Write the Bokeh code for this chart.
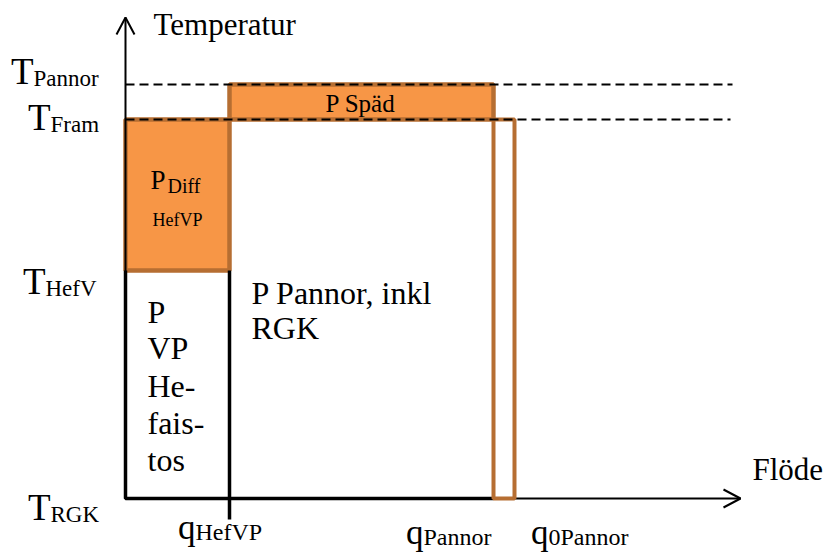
from bokeh.plotting import figure
from bokeh.models import Range1d
from bokeh.core.properties import value
from bokeh.embed import file_html
from bokeh.resources import INLINE

# ---- schematic data (diagram units = page pixels) ----
temp_names = ["Pannor", "Fram", "HefV", "RGK"]
temp_levels = [84, 119, 270, 498]          # T_Pannor, T_Fram, T_HefV, T_RGK
flow_names = ["HefVP", "Pannor", "0Pannor"]
flow_levels = [229, 493, 514]              # q_HefVP, q_Pannor, q_0Pannor
origin_x = 125
axis_x_end = 740
axis_y_end = 17
dash_end = [732, 730]

T_PAN, T_FRAM, T_HEF, T_RGK = temp_levels
Q_HEF, Q_PAN, Q_0PAN = flow_levels

ORANGE = "#F79646"
BORDER = "#B66E32"
SERIF = value("Liberation Serif")

p = figure(width=825, height=553, x_range=Range1d(0, 825), y_range=Range1d(553, 0),
           x_axis_type=None, y_axis_type=None, output_backend="svg",
           toolbar_location=None, min_border=0)
p.grid.visible = False
p.outline_line_color = None
p.background_fill_color = "white"

# orange areas
p.quad(left=[origin_x], right=[Q_HEF], top=[T_FRAM], bottom=[T_HEF],
       fill_color=ORANGE, line_color=BORDER, line_width=4.5)
p.quad(left=[Q_HEF], right=[Q_PAN], top=[T_PAN], bottom=[T_FRAM],
       fill_color=ORANGE, line_color=BORDER, line_width=4.5)

# thin axes
p.line(x=[origin_x, origin_x], y=[T_RGK, axis_y_end], line_color="black", line_width=2)
p.line(x=[origin_x, axis_x_end], y=[T_RGK, T_RGK], line_color="black", line_width=1.8)
# arrowheads
p.line(x=[origin_x - 9, origin_x, origin_x + 9], y=[axis_y_end + 17, axis_y_end, axis_y_end + 17],
       line_color="black", line_width=2)
p.line(x=[axis_x_end - 17, axis_x_end, axis_x_end - 17], y=[T_RGK - 9, T_RGK, T_RGK + 9],
       line_color="black", line_width=2)

# thick black region borders
p.line(x=[origin_x, origin_x, Q_PAN], y=[T_HEF, T_RGK, T_RGK], line_color="black", line_width=3.5)
p.line(x=[Q_HEF, Q_HEF], y=[T_HEF, T_RGK + 21], line_color="black", line_width=3.5)

# open rectangle between q_Pannor and q_0Pannor
p.quad(left=[Q_PAN], right=[Q_0PAN], top=[T_FRAM], bottom=[T_RGK],
       fill_color="white", line_color=BORDER, line_width=4)

# dashed level lines
for lvl, xe in zip(temp_levels[:2], dash_end):
    p.line(x=[origin_x, xe], y=[lvl, lvl], line_color="black", line_width=2, line_dash="9 5")


def txt(x, y, t, size, align="left"):
    # y is the wanted baseline; compensate the svg backend's baseline shift
    yy = y - 0.3 * size
    p.text(x=[x], y=[yy], text=[t], text_font=SERIF, text_font_size=value(f"{size}px"),
           text_baseline="alphabetic", text_align=align, text_color="black")


# axis titles
txt(153, 33, "Temperatur", 31)
txt(752, 478, "Flöde", 31)

# temperature labels (T + subscript)
t_label_pos = [(33, 82), (50, 128), (45, 292), (50, 518)]
for name, (xs, yb) in zip(temp_names, t_label_pos):
    txt(xs, yb, "T", 37, "right")
    txt(xs, yb + 3, name, 23)

# flow labels (q + subscript)
q_label_pos = [(195, 537), (423, 542), (548, 542)]
for name, (xs, yb) in zip(flow_names, q_label_pos):
    txt(xs, yb, "q", 35, "right")
    txt(xs, yb + 2, name, 24)

# region texts
txt(360, 110, "P Späd", 25, "center")
txt(150, 188, "P", 27)
txt(167, 191, "Diff", 20)
txt(152, 225, "HefVP", 18)
txt(251, 302, "P Pannor, inkl", 32)
txt(251, 337, "RGK", 32)
for word, yb in zip(["P", "VP", "He-", "fais-", "tos"], [321, 357, 395, 432, 469]):
    txt(147, yb, word, 32)

open("out.html", "w").write(file_html(p, INLINE))
